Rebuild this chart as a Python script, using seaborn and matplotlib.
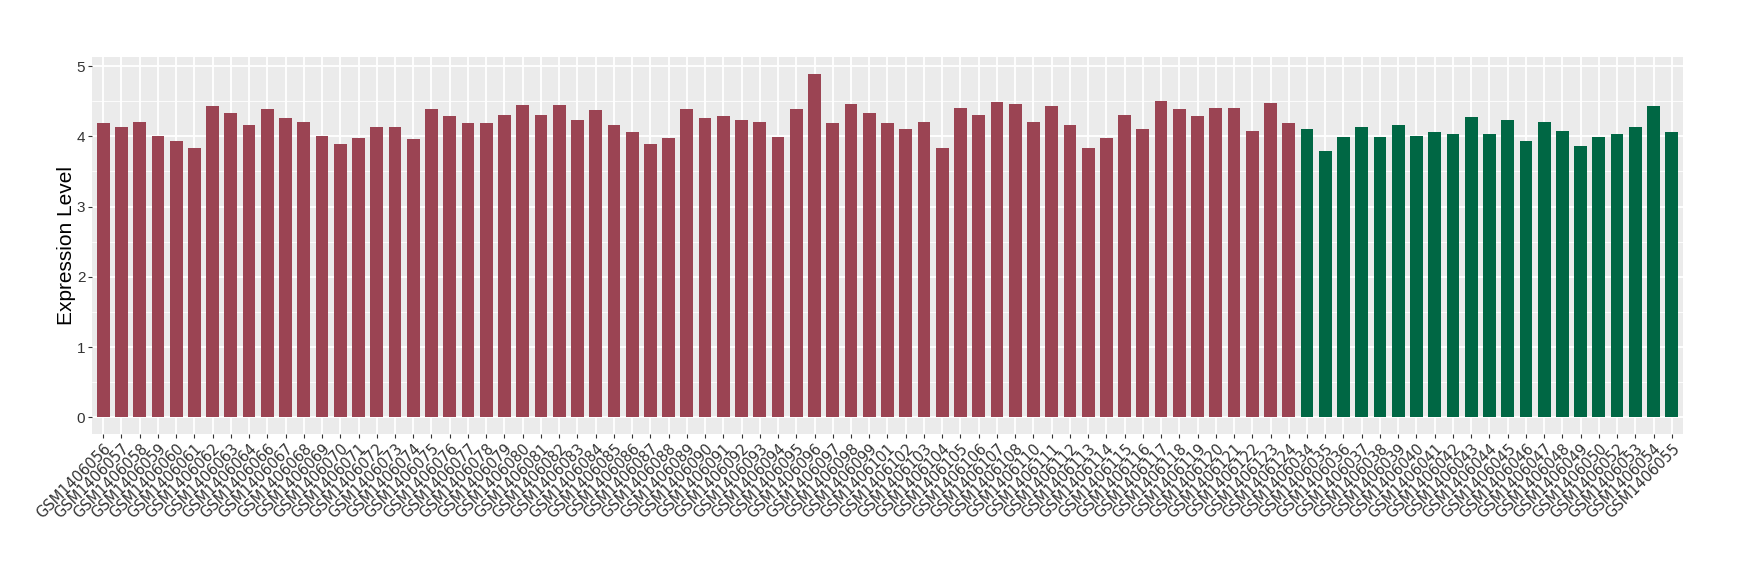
import matplotlib
matplotlib.use("Agg")
import matplotlib.pyplot as plt
from matplotlib.ticker import MultipleLocator
import seaborn as sns
import pandas as pd

# muestras del grupo 1 (rojo) y grupo 2 (verde), en el orden del eje x
samples_g1 = [
    "GSM1406056", "GSM1406057", "GSM1406058", "GSM1406059", "GSM1406060",
    "GSM1406061", "GSM1406062", "GSM1406063", "GSM1406064", "GSM1406066",
    "GSM1406067", "GSM1406068", "GSM1406069", "GSM1406070", "GSM1406071",
    "GSM1406072", "GSM1406073", "GSM1406074", "GSM1406075", "GSM1406076",
    "GSM1406077", "GSM1406078", "GSM1406079", "GSM1406080", "GSM1406081",
    "GSM1406082", "GSM1406083", "GSM1406084", "GSM1406085", "GSM1406086",
    "GSM1406087", "GSM1406088", "GSM1406089", "GSM1406090", "GSM1406091",
    "GSM1406092", "GSM1406093", "GSM1406094", "GSM1406095", "GSM1406096",
    "GSM1406097", "GSM1406098", "GSM1406099", "GSM1406101", "GSM1406102",
    "GSM1406103", "GSM1406104", "GSM1406105", "GSM1406106", "GSM1406107",
    "GSM1406108", "GSM1406110", "GSM1406111", "GSM1406112", "GSM1406113",
    "GSM1406114", "GSM1406115", "GSM1406116", "GSM1406117", "GSM1406118",
    "GSM1406119", "GSM1406120", "GSM1406121", "GSM1406122", "GSM1406123",
    "GSM1406124",
]
values_g1 = [
    4.19, 4.13, 4.20, 4.01, 3.93, 3.84, 4.43, 4.33, 4.16, 4.39,
    4.26, 4.20, 4.00, 3.89, 3.97, 4.13, 4.14, 3.96, 4.39, 4.29,
    4.19, 4.19, 4.30, 4.44, 4.30, 4.44, 4.24, 4.37, 4.16, 4.06,
    3.89, 3.97, 4.39, 4.26, 4.29, 4.23, 4.21, 3.99, 4.39, 4.89,
    4.19, 4.46, 4.33, 4.19, 4.10, 4.21, 3.84, 4.40, 4.31, 4.49,
    4.46, 4.21, 4.43, 4.16, 3.84, 3.97, 4.30, 4.10, 4.50, 4.39,
    4.29, 4.41, 4.40, 4.07, 4.47, 4.19,
]

samples_g2 = [
    "GSM1406034", "GSM1406035", "GSM1406036", "GSM1406037", "GSM1406038",
    "GSM1406039", "GSM1406040", "GSM1406041", "GSM1406042", "GSM1406043",
    "GSM1406044", "GSM1406045", "GSM1406046", "GSM1406047", "GSM1406048",
    "GSM1406049", "GSM1406050", "GSM1406052", "GSM1406053", "GSM1406054",
    "GSM1406055",
]
values_g2 = [
    4.10, 3.79, 3.99, 4.14, 3.99, 4.16, 4.00, 4.06, 4.03, 4.27,
    4.03, 4.23, 3.93, 4.21, 4.07, 3.87, 3.99, 4.04, 4.13, 4.43,
    4.06,
]

group_colors = {"g1": "#9B4453", "g2": "#006744"}

df = pd.DataFrame({
    "Sample": samples_g1 + samples_g2,
    "Expression": values_g1 + values_g2,
    "Group": ["g1"] * len(samples_g1) + ["g2"] * len(samples_g2),
})

sns.set_theme(style="darkgrid", rc={
    "axes.facecolor": "#EBEBEB",
    "grid.color": "white",
    "axes.edgecolor": "#EBEBEB",
})
plt.rcParams["font.family"] = ["Liberation Sans", "DejaVu Sans"]

fig = plt.figure(figsize=(17.4, 5.8), dpi=100)
ax = fig.add_axes([0.0530, 0.251, 0.9141, 0.6512])

sns.barplot(data=df, x="Sample", y="Expression", hue="Group",
            order=df["Sample"].tolist(), palette=group_colors,
            saturation=1, width=0.7, dodge=False, legend=False, ax=ax,
            linewidth=0, zorder=3)

n = len(df)
ymax = df["Expression"].max()
ax.set_xlim(-0.6, n - 1 + 0.6)
ax.set_ylim(-0.05 * ymax, 1.05 * ymax)
ax.yaxis.set_major_locator(MultipleLocator(1))
ax.yaxis.set_minor_locator(MultipleLocator(0.5))

ax.grid(which="major", axis="both", color="white", linewidth=1.3, zorder=0)
ax.grid(which="minor", axis="y", color="white", linewidth=0.6, zorder=0)
ax.set_axisbelow(True)
for s in ax.spines.values():
    s.set_visible(False)

ax.tick_params(axis="both", which="major", length=3, width=0.8,
               color="#333333", labelcolor="#333333", pad=2)
ax.tick_params(axis="y", which="major", labelsize=11)
ax.tick_params(axis="y", which="minor", length=0)
ax.tick_params(axis="both", which="major", left=True, bottom=True)

plt.setp(ax.get_xticklabels(), rotation=45, ha="right", va="top",
         rotation_mode="anchor", family="DejaVu Sans", fontsize=10.5)

ax.set_xlabel("")
ax.set_ylabel("Expression Level", fontsize=15, color="black", labelpad=0.5)

plt.savefig("out.png", dpi=100)
plt.close()
